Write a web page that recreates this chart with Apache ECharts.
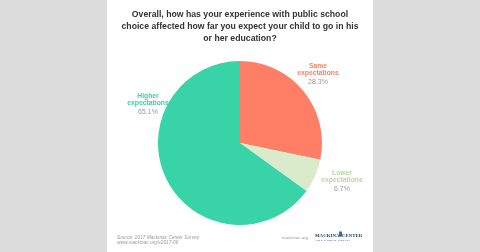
<!DOCTYPE html>
<html><head><meta charset="utf-8">
<script src="https://cdn.jsdelivr.net/npm/echarts@6/dist/echarts.min.js"></script>
<style>html,body{margin:0;padding:0;background:#dcdcdc}#c{width:480px;height:252px}</style>
</head><body><div id="c"></div>
<script>
const categories = ['Same\nexpectations', 'Lower\nexpectations', 'Higher\nexpectations'];
const values = [28.3, 6.7, 65.1];
const colors = ['#FF7F66', '#D9EBCB', '#38D3A6'];
const labelColors = ['#FF7F66', '#B9D6A4', '#38D3A6'];
const labelPos = [[318, 75], [342, 182], [148, 105]];
const titleText = 'Overall, how has your experience with public school\nchoice affected how far you expect your child to go in his\nor her education?';

const chart = echarts.init(document.getElementById('c'), null, {renderer: 'canvas'});
chart.setOption({
  backgroundColor: '#dcdcdc',
  animation: false,
  graphic: [
    {type: 'rect', shape: {x: 107, y: 0, width: 266, height: 252}, style: {fill: '#ffffff'}, z: -10},
    {type: 'text', x: 240, y: 9, style: {text: titleText, font: 'bold 8.7px "Liberation Sans"', fill: '#333', lineHeight: 12, textAlign: 'center'}},
    {type: 'text', left: 117, top: 234.5, style: {text: 'Source: 2017 Mackinac Center Survey\nwww.mackinac.org/s2017-06', font: 'italic 4.8px "Liberation Sans"', fill: '#9a9a9a', lineHeight: 5.6}},
    {type: 'text', left: 282, top: 236, style: {text: 'mackinac.org', font: '4.4px "Liberation Sans"', fill: '#9a9a9a'}},
    {type: 'text', left: 315, top: 233, style: {text: 'MACKINAC', font: 'bold 4.9px "Liberation Serif"', fill: '#1f3a5c'}},
    {type: 'rect', shape: {x: 339, y: 231.5, width: 3, height: 5}, style: {fill: '#2f6db5'}},
    {type: 'text', left: 342, top: 233, style: {text: 'CENTER', font: 'bold 4.9px "Liberation Serif"', fill: '#1f3a5c'}},
    {type: 'text', left: 316, top: 239.5, style: {text: 'F O R   P U B L I C   P O L I C Y', font: '2.4px "Liberation Sans"', fill: '#1f3a5c'}}
  ],
  series: [{
    type: 'pie',
    center: [240, 143],
    radius: 82,
    startAngle: 90,
    clockwise: true,
    silent: true,
    labelLine: {show: false},
    label: {
      position: 'outside',
      formatter: p => '{n|' + p.name + '}\n{v|' + p.value.toFixed(1) + '%}',
      rich: {
        n: {fontFamily: 'Liberation Sans', fontWeight: 'bold', fontSize: 6.8, lineHeight: 7.5, align: 'center'},
        v: {fontFamily: 'Liberation Sans', fontSize: 7, lineHeight: 11, color: '#999', align: 'center'}
      }
    },
    labelLayout: p => ({x: labelPos[p.dataIndex][0], y: labelPos[p.dataIndex][1], align: 'center', verticalAlign: 'middle'}),
    data: categories.map((c, i) => ({
      name: c, value: values[i],
      itemStyle: {color: colors[i]},
      label: {rich: {n: {color: labelColors[i]}}}
    }))
  }]
});
</script></body></html>
